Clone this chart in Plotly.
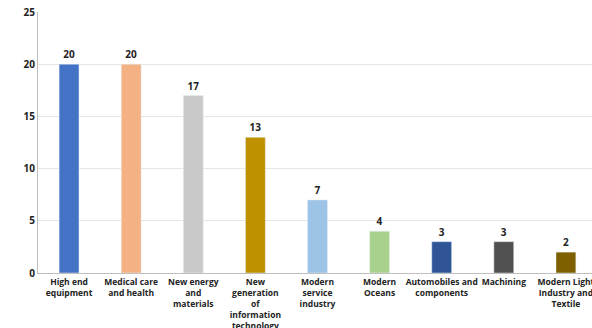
import plotly.graph_objects as go

categories = ["High end<br>equipment", "Medical care<br>and health", "New energy<br>and<br>materials",
              "New<br>generation<br>of<br>information<br>technology", "Modern<br>service<br>industry",
              "Modern<br>Oceans", "Automobiles and<br>components", "Machining",
              "Modern Light<br>Industry and<br>Textile"]
values = [20, 20, 17, 13, 7, 4, 3, 3, 2]
colors = ["#4472C4", "#F4B183", "#C9C9C9", "#BF9000", "#9DC3E6", "#A9D18E", "#2F5597", "#505050", "#7F6000"]
yticks = [0, 5, 10, 15, 20, 25]

fig = go.Figure(go.Bar(
    x=list(range(len(categories))), y=values, marker_color=colors, width=0.32,
    text=[str(v) for v in values], textposition="outside", cliponaxis=False,
    textfont=dict(family="Open Sans", size=10, color="#222222", weight="bold"),
))
fig.update_layout(
    width=592, height=328, margin=dict(l=38, r=0, t=12, b=55),
    plot_bgcolor="white", paper_bgcolor="white", showlegend=False,
    font=dict(family="Open Sans", color="#222222"),
)
fig.update_xaxes(range=[-0.5, 8.42], tickmode="array", tickvals=list(range(len(categories))),
                 ticktext=["<b>%s</b>" % c for c in categories], tickangle=0, automargin=False,
                 ticklabeloverflow="allow", ticklabelstandoff=1,
                 tickfont=dict(size=8.5), showline=True, linecolor="#BFBFBF", ticks="", showgrid=False)
fig.update_yaxes(range=[0, 25], tickvals=yticks, ticktext=["<b>%d</b>" % t for t in yticks],
                 tickfont=dict(size=10), showline=True, linecolor="#BFBFBF", gridcolor="#E6E6E6",
                 ticks="", zeroline=False, automargin=False)
fig.write_html("out.html")
